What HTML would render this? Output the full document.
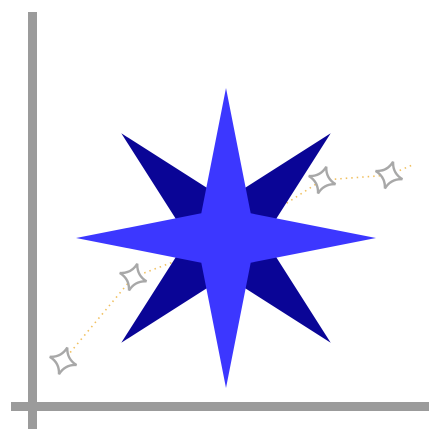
<!DOCTYPE html>
<html><head><meta charset="utf-8"><style>
html,body{margin:0;padding:0;background:#fff;}
svg{display:block;}
</style></head><body>
<svg id="chart" width="445" height="445" viewBox="0 0 445 445" xmlns="http://www.w3.org/2000/svg">
  <g id="line-layer"></g>
  <g id="star-layer"></g>
  <g id="point-layer"></g>
  <rect x="28" y="12" width="9" height="417" fill="#9b9b9b"/>
  <rect x="11" y="402" width="418" height="9" fill="#9b9b9b"/>
</svg>
<script>
const xValues = [0.89, 2.89, 5.6, 8.29, 10.2, 10.86];
const yValues = [1.26, 3.6, 4.6, 6.31, 6.45, 6.73];
const sparkleIdx = [0, 1, 3, 4];
const NS = 'http://www.w3.org/2000/svg';
function xs(v){ return 32 + v * 35; }
function ys(v){ return 406 - v * 35.8; }
const lineLayer = document.getElementById('line-layer');
const pts = xValues.map((v,i)=>xs(v)+','+ys(yValues[i])).join(' ');
const pl = document.createElementNS(NS,'polyline');


pl.setAttribute('points', pts);
pl.setAttribute('fill','none');
pl.setAttribute('stroke','#f0c060');
pl.setAttribute('stroke-width','1.6');
pl.setAttribute('stroke-dasharray','1.5 4');
lineLayer.appendChild(pl);

const starLayer = document.getElementById('star-layer');
function starPath(cx,cy,R,r,rot){
  let d='';
  for(let i=0;i<8;i++){
    const a = rot + i*Math.PI/4;
    const rad = i%2===0 ? R : r;
    d += (i===0?'M':'L') + (cx+rad*Math.cos(a)).toFixed(1)+','+(cy+rad*Math.sin(a)).toFixed(1);
  }
  return d+'Z';
}
const dark = document.createElementNS(NS,'path');


dark.setAttribute('d', starPath(226,238,148,38,-Math.PI/4));
dark.setAttribute('fill','#0a0596');
starLayer.appendChild(dark);
const light = document.createElementNS(NS,'path');


light.setAttribute('d', starPath(226,238,150,35,-Math.PI/2));
light.setAttribute('fill','#3c37ff');
starLayer.appendChild(light);

const pointLayer = document.getElementById('point-layer');
sparkleIdx.forEach(i=>{
  const cx = xs(xValues[i]), cy = ys(yValues[i]);
  const R=14, r=4, rot=-Math.PI/2+0.3;
  let d='';
  for(let k=0;k<4;k++){
    const a=rot+k*Math.PI/2, b=a+Math.PI/4, c=a+Math.PI/2;
    const p1=[cx+R*Math.cos(a),cy+R*Math.sin(a)];
    const q=[cx+r*Math.cos(b),cy+r*Math.sin(b)];
    const p2=[cx+R*Math.cos(c),cy+R*Math.sin(c)];
    if(k===0) d+='M'+p1[0].toFixed(1)+','+p1[1].toFixed(1);
    d+='Q'+q[0].toFixed(1)+','+q[1].toFixed(1)+' '+p2[0].toFixed(1)+','+p2[1].toFixed(1);
  }
  const s=document.createElementNS(NS,'path');
  
  
  s.setAttribute('d', d+'Z');
  s.setAttribute('fill','#fff');
  s.setAttribute('stroke','#a8a8a8');
  s.setAttribute('stroke-width','2.4');
  pointLayer.appendChild(s);
});
</script>
</body></html>
